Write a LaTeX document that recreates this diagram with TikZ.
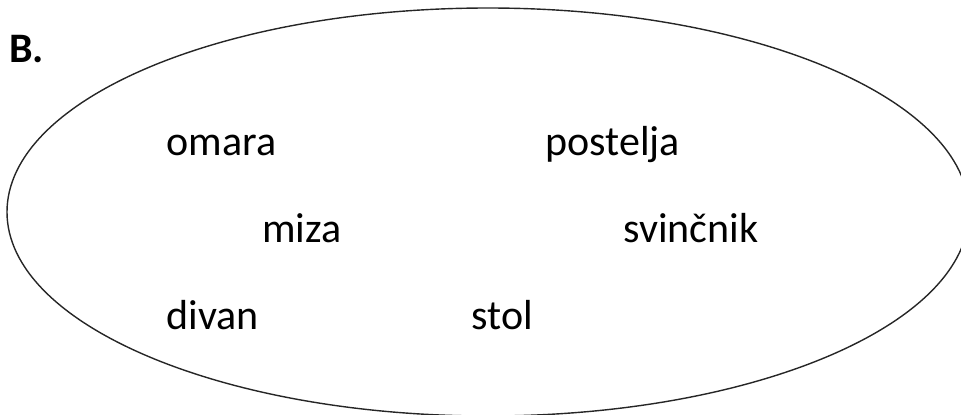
\documentclass[tikz,border=0pt]{standalone}
\usepackage{fontspec}
\setmainfont{Carlito}

\tikzstyle{word}=[anchor=base west,inner sep=0pt,font=\fontsize{21}{25}\selectfont]
\tikzstyle{title}=[word,font=\fontsize{21}{25}\selectfont\bfseries]
\tikzstyle{oval}=[draw,line width=0.7pt,black!85]
\newcommand{\pxunit}{0.5pt}

\begin{document}
\begin{tikzpicture}[x=\pxunit, y=\pxunit]
    \useasboundingbox (0,0) rectangle (961,414);
    \clip (0,0) rectangle (961,414);
    % The big oval around the words
    \coordinate (centre) at (488,202);
    \path[oval] (centre) ellipse [x radius=481, y radius=204];
    % Title
    \node[title] (label) at (9,352) {B.};
    % Then the words inside
    \foreach \pos/\name/\txt in {{(166,259)/omara/omara}, {(545,259)/postelja/postelja},
        {(262,172)/miza/miza}, {(623,172)/svincnik/svinčnik},
        {(166,85)/divan/divan}, {(471,85)/stol/stol}}
        \node[word] (\name) at \pos {\txt};
\end{tikzpicture}
\end{document}
